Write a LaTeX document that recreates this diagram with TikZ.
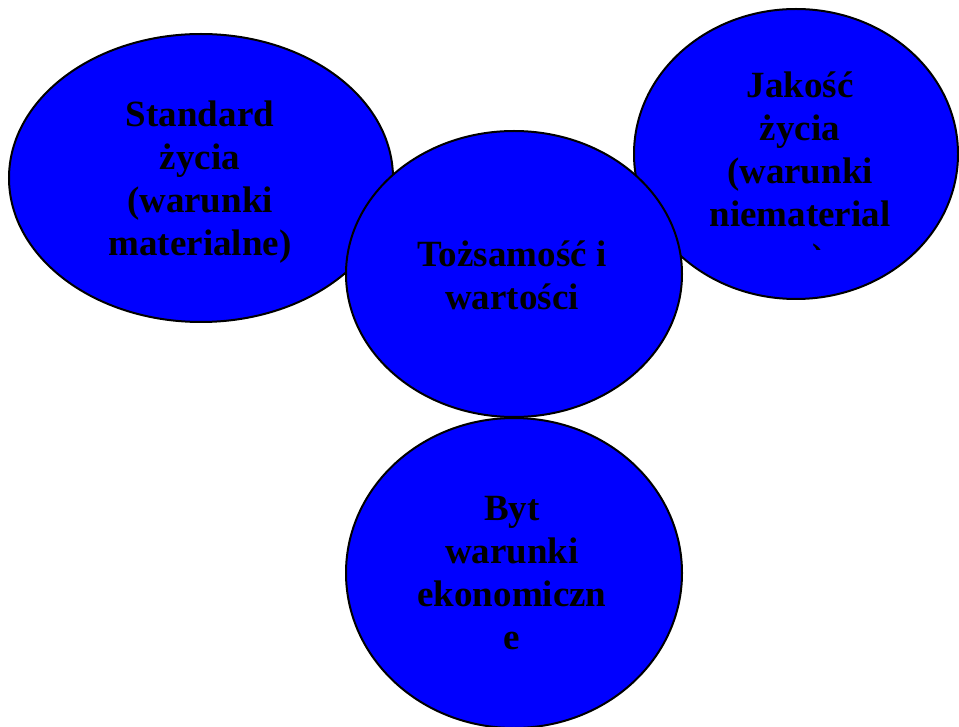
\documentclass[tikz,border=0pt]{standalone}
\usepackage{fontspec}
\setmainfont{Liberation Serif}
\usetikzlibrary{shapes.geometric}
\definecolor{bubbleblue}{RGB}{0,0,255}
\tikzset{
  bubble/.style={ellipse, draw=black, line width=2pt, fill=bubbleblue, inner sep=0pt},
  label/.style={align=center, inner sep=0pt, text=black, font=\fontsize{37}{43}\selectfont\bfseries, anchor=base}
}
\begin{document}
\begin{tikzpicture}[x=1pt,y=-1pt]
\useasboundingbox (0,0) rectangle (959,727);
\clip (0,0) rectangle (959,727);
\node[bubble, minimum width=384pt, minimum height=288pt] (left) at (201,178) {};
\node[bubble, minimum width=324pt, minimum height=290pt] (right) at (796,154) {};
\node[bubble, minimum width=336pt, minimum height=286pt] (center) at (514,274) {};
\node[bubble, minimum width=336pt, minimum height=310pt] (bottom) at (514,573) {};
\node[label] (lefttext) at (200,256) {Standard\\życia\\(warunki\\materialne)};
\begin{scope}
\clip (600,0) rectangle (959,250);
\node[label] (righttext) at (800,270) {Jakość\\życia\\(warunki\\niematerial\\ne)};
\end{scope}
\node[label] (centertext) at (512,310) {Tożsamość i\\wartości};
\node[label] (bottomtext) at (512,649) {Byt\\warunki\\ekonomiczn\\e};
\end{tikzpicture}
\end{document}
